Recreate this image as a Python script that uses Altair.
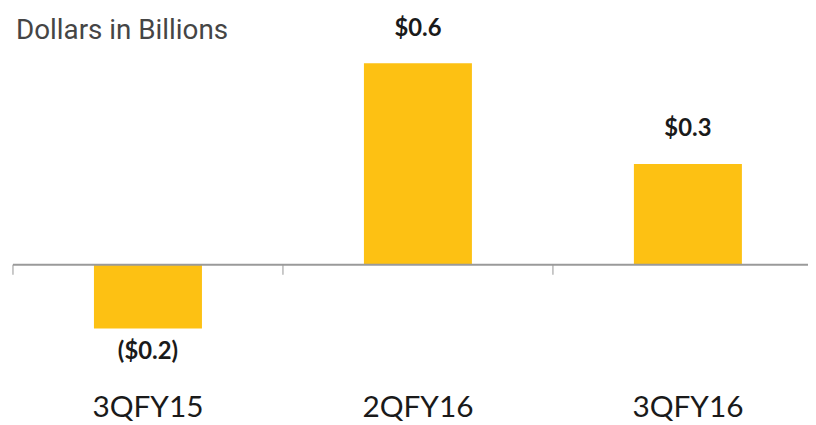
import altair as alt
import pandas as pd

quarters = ["3QFY15", "2QFY16", "3QFY16"]
values = [-0.19, 0.6, 0.3]
value_labels = ["($0.2)", "$0.6", "$0.3"]
title_text = ["Dollars in Billions"]

df = pd.DataFrame({"quarter": quarters, "value": values, "label": value_labels})
zero_df = pd.DataFrame({"z": [0]})
title_df = pd.DataFrame({"t": title_text})

BAR = "#FDC113"
LINE = "#9a9a9a"

x = alt.X(
    "quarter:N",
    sort=quarters,
    scale=alt.Scale(range=[0, 816], paddingInner=0.6, paddingOuter=0.3),
    axis=alt.Axis(
        title=None, labelAngle=0, domain=False, ticks=False, grid=False,
        labelFont="Lato", labelFontSize=30, labelColor="#1a1a1a",
        labelBaseline="alphabetic", labelPadding=26,
    ),
)
y = alt.Y("value:Q", scale=alt.Scale(domain=[-0.375, 0.636], nice=False, zero=False), axis=None)

base = alt.Chart(df)

bars = base.mark_bar(color=BAR).encode(x=x, y=y)

zero = alt.Chart(zero_df).mark_rule(color=LINE, strokeWidth=2).encode(
    y=alt.Y("z:Q"), x=alt.value(0), x2=alt.value(803)
)

ticks = base.mark_tick(
    orient="vertical", size=10, thickness=1.5, color=LINE, xOffset=-136, yOffset=5
).encode(x=alt.X("quarter:N", sort=quarters), y=alt.datum(0))

pos_text = base.transform_filter("datum.value >= 0").mark_text(
    font="Lato", fontWeight="bold", fontSize=24, baseline="middle", dy=-35, color="#1a1a1a"
).encode(x=alt.X("quarter:N", sort=quarters), y="value:Q", text="label:N")

neg_text = base.transform_filter("datum.value < 0").mark_text(
    font="Lato", fontWeight="bold", fontSize=24, baseline="middle", dy=24, color="#1a1a1a"
).encode(x=alt.X("quarter:N", sort=quarters), y="value:Q", text="label:N")

title = alt.Chart(title_df).mark_text(
    font="Roboto", fontSize=28, color="#454545", align="left", baseline="alphabetic"
).encode(x=alt.value(3), y=alt.value(-12), text="t:N")

chart = alt.layer(bars, zero, ticks, pos_text, neg_text, title).properties(
    width=800,
    height=342,
    padding={"left": 5, "right": 1, "top": 42, "bottom": 33},
    autosize=alt.AutoSizeParams(type="none"),
).configure_view(stroke=None)

chart.save("out.html", embed_options={"renderer": "svg", "actions": False})
